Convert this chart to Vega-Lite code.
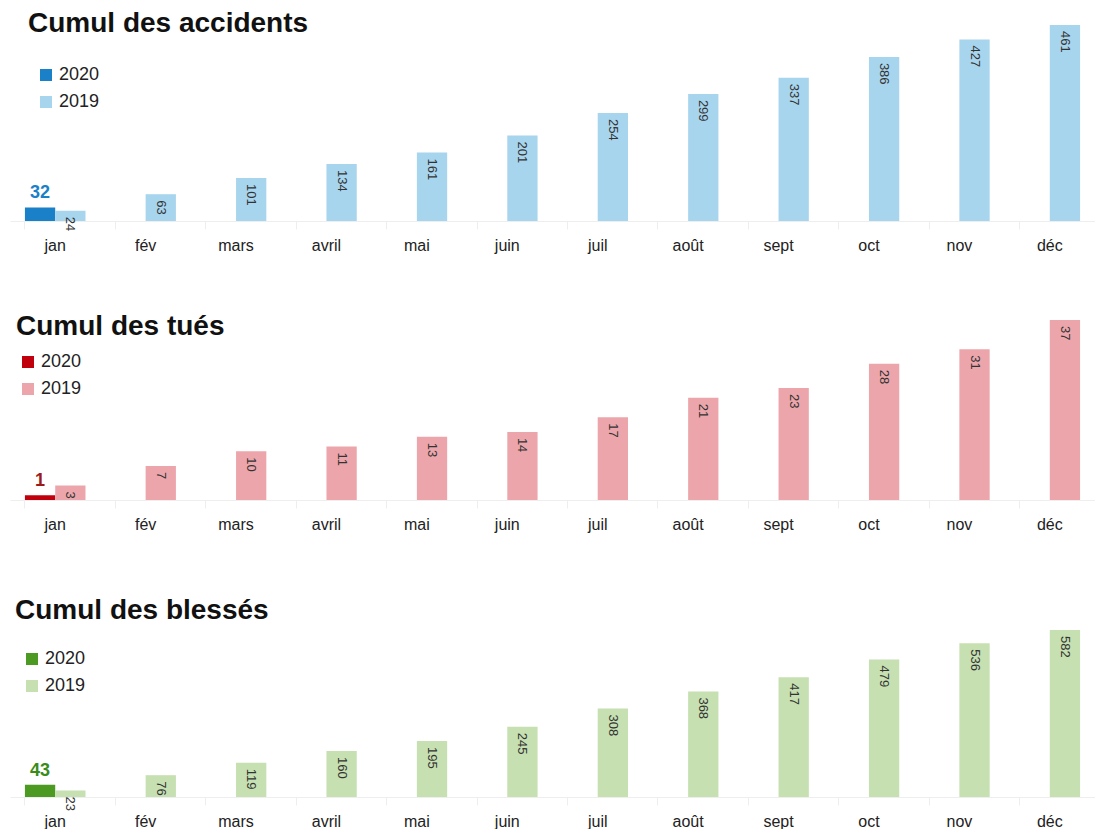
{
  "$schema": "https://vega.github.io/schema/vega-lite/v6.json",
  "padding": {"left": 10, "top": 10, "right": 0, "bottom": 0},
  "autosize": {"type": "pad"},
  "background": "white",
  "config": {
    "font": "Liberation Sans",
    "view": {"stroke": null},
    "title": {"font": "Liberation Sans", "fontSize": 28, "fontWeight": "bold", "color": "#111111", "anchor": "start"},
    "axisX": {
      "title": null, "labelAngle": 0, "labelFontSize": 16, "labelColor": "#222222",
      "domainColor": "#eeeeee", "tickColor": "#eeeeee", "tickSize": 8, "bandPosition": 0,
      "labelPadding": 8, "labelFont": "Liberation Sans"
    },
    "legend": {"labelFontSize": 18, "labelColor": "#222222", "symbolType": "square", "symbolSize": 144, "rowPadding": 9, "title": null, "labelFont": "Liberation Sans", "symbolStrokeWidth": 0}
  },
  "datasets": {
    "accidents": [
      {"month": "jan", "year": "2020", "value": 32},
      {"month": "jan", "year": "2019", "value": 24},
      {"month": "fév", "year": "2019", "value": 63},
      {"month": "mars", "year": "2019", "value": 101},
      {"month": "avril", "year": "2019", "value": 134},
      {"month": "mai", "year": "2019", "value": 161},
      {"month": "juin", "year": "2019", "value": 201},
      {"month": "juil", "year": "2019", "value": 254},
      {"month": "août", "year": "2019", "value": 299},
      {"month": "sept", "year": "2019", "value": 337},
      {"month": "oct", "year": "2019", "value": 386},
      {"month": "nov", "year": "2019", "value": 427},
      {"month": "déc", "year": "2019", "value": 461}
    ],
    "tues": [
      {"month": "jan", "year": "2020", "value": 1},
      {"month": "jan", "year": "2019", "value": 3},
      {"month": "fév", "year": "2019", "value": 7},
      {"month": "mars", "year": "2019", "value": 10},
      {"month": "avril", "year": "2019", "value": 11},
      {"month": "mai", "year": "2019", "value": 13},
      {"month": "juin", "year": "2019", "value": 14},
      {"month": "juil", "year": "2019", "value": 17},
      {"month": "août", "year": "2019", "value": 21},
      {"month": "sept", "year": "2019", "value": 23},
      {"month": "oct", "year": "2019", "value": 28},
      {"month": "nov", "year": "2019", "value": 31},
      {"month": "déc", "year": "2019", "value": 37}
    ],
    "blesses": [
      {"month": "jan", "year": "2020", "value": 43},
      {"month": "jan", "year": "2019", "value": 23},
      {"month": "fév", "year": "2019", "value": 76},
      {"month": "mars", "year": "2019", "value": 119},
      {"month": "avril", "year": "2019", "value": 160},
      {"month": "mai", "year": "2019", "value": 195},
      {"month": "juin", "year": "2019", "value": 245},
      {"month": "juil", "year": "2019", "value": 308},
      {"month": "août", "year": "2019", "value": 368},
      {"month": "sept", "year": "2019", "value": 417},
      {"month": "oct", "year": "2019", "value": 479},
      {"month": "nov", "year": "2019", "value": 536},
      {"month": "déc", "year": "2019", "value": 582}
    ]
  },
  "vconcat": [
    {
      "data": {"name": "accidents"},
      "title": {"text": "Cumul des accidents", "dx": 18, "dy": 17},
      "width": 1085,
      "height": 196,
      "encoding": {
        "x": {"field": "month", "type": "nominal", "sort": ["jan","fév","mars","avril","mai","juin","juil","août","sept","oct","nov","déc"], "scale": {"paddingInner": 0.33, "paddingOuter": 0.165}},
        "xOffset": {"field": "year", "type": "nominal", "scale": {"domain": ["2020","2019"], "paddingInner": 0, "paddingOuter": 0}},
        "y": {"field": "value", "type": "quantitative", "axis": null, "scale": {"domain": [0, 461], "nice": false}}
      },
      "layer": [
        {
          "mark": {"type": "bar"},
          "encoding": {
            "color": {"field": "year", "type": "nominal", "scale": {"domain": ["2020","2019"], "range": ["#1a80c8", "#a8d5ee"]},
              "legend": {"orient": "none", "legendX": 27, "legendY": 41}}
          }
        },
        {
          "transform": [{"filter": "datum.year == '2019'"}],
          "mark": {"type": "text", "angle": 90, "align": "left", "baseline": "middle", "dx": 6, "fontSize": 13, "color": "#333333"},
          "encoding": {"text": {"field": "value", "type": "quantitative"}}
        },
        {
          "transform": [{"filter": "datum.year == '2020'"}],
          "mark": {"type": "text", "align": "center", "baseline": "bottom", "dy": -5, "fontSize": 18, "fontWeight": "bold", "color": "#1a80c8"},
          "encoding": {"text": {"field": "value", "type": "quantitative"}}
        }
      ]
    },
    {
      "data": {"name": "tues"},
      "title": {"text": "Cumul des tués", "dx": 6, "dy": 25},
      "width": 1085,
      "height": 180,
      "encoding": {
        "x": {"field": "month", "type": "nominal", "sort": ["jan","fév","mars","avril","mai","juin","juil","août","sept","oct","nov","déc"], "scale": {"paddingInner": 0.33, "paddingOuter": 0.165}},
        "xOffset": {"field": "year", "type": "nominal", "scale": {"domain": ["2020","2019"], "paddingInner": 0, "paddingOuter": 0}},
        "y": {"field": "value", "type": "quantitative", "axis": null, "scale": {"domain": [0, 37], "nice": false}}
      },
      "layer": [
        {
          "mark": {"type": "bar"},
          "encoding": {
            "color": {"field": "year", "type": "nominal", "scale": {"domain": ["2020","2019"], "range": ["#c0000c", "#eca6ab"]},
              "legend": {"orient": "none", "legendX": 9, "legendY": 33}}
          }
        },
        {
          "transform": [{"filter": "datum.year == '2019'"}],
          "mark": {"type": "text", "angle": 90, "align": "left", "baseline": "middle", "dx": 6, "fontSize": 13, "color": "#333333"},
          "encoding": {"text": {"field": "value", "type": "quantitative"}}
        },
        {
          "transform": [{"filter": "datum.year == '2020'"}],
          "mark": {"type": "text", "align": "center", "baseline": "bottom", "dy": -5, "fontSize": 18, "fontWeight": "bold", "color": "#9e1a1a"},
          "encoding": {"text": {"field": "value", "type": "quantitative"}}
        }
      ]
    },
    {
      "data": {"name": "blesses"},
      "title": {"text": "Cumul des blessés", "dx": 5, "dy": 30},
      "width": 1085,
      "height": 198,
      "encoding": {
        "x": {"field": "month", "type": "nominal", "sort": ["jan","fév","mars","avril","mai","juin","juil","août","sept","oct","nov","déc"], "scale": {"paddingInner": 0.33, "paddingOuter": 0.165}},
        "xOffset": {"field": "year", "type": "nominal", "scale": {"domain": ["2020","2019"], "paddingInner": 0, "paddingOuter": 0}},
        "y": {"field": "value", "type": "quantitative", "axis": null, "scale": {"domain": [0, 690], "nice": false}}
      },
      "layer": [
        {
          "mark": {"type": "bar"},
          "encoding": {
            "color": {"field": "year", "type": "nominal", "scale": {"domain": ["2020","2019"], "range": ["#4d9a22", "#c6e0b1"]},
              "legend": {"orient": "none", "legendX": 13, "legendY": 51}}
          }
        },
        {
          "transform": [{"filter": "datum.year == '2019'"}],
          "mark": {"type": "text", "angle": 90, "align": "left", "baseline": "middle", "dx": 6, "fontSize": 13, "color": "#333333"},
          "encoding": {"text": {"field": "value", "type": "quantitative"}}
        },
        {
          "transform": [{"filter": "datum.year == '2020'"}],
          "mark": {"type": "text", "align": "center", "baseline": "bottom", "dy": -5, "fontSize": 18, "fontWeight": "bold", "color": "#3a8c1a"},
          "encoding": {"text": {"field": "value", "type": "quantitative"}}
        }
      ]
    }
  ],
  "spacing": 99,
  "bounds": "flush",
  "resolve": {"scale": {"color": "independent", "y": "independent"}, "legend": {"color": "independent"}}
}
